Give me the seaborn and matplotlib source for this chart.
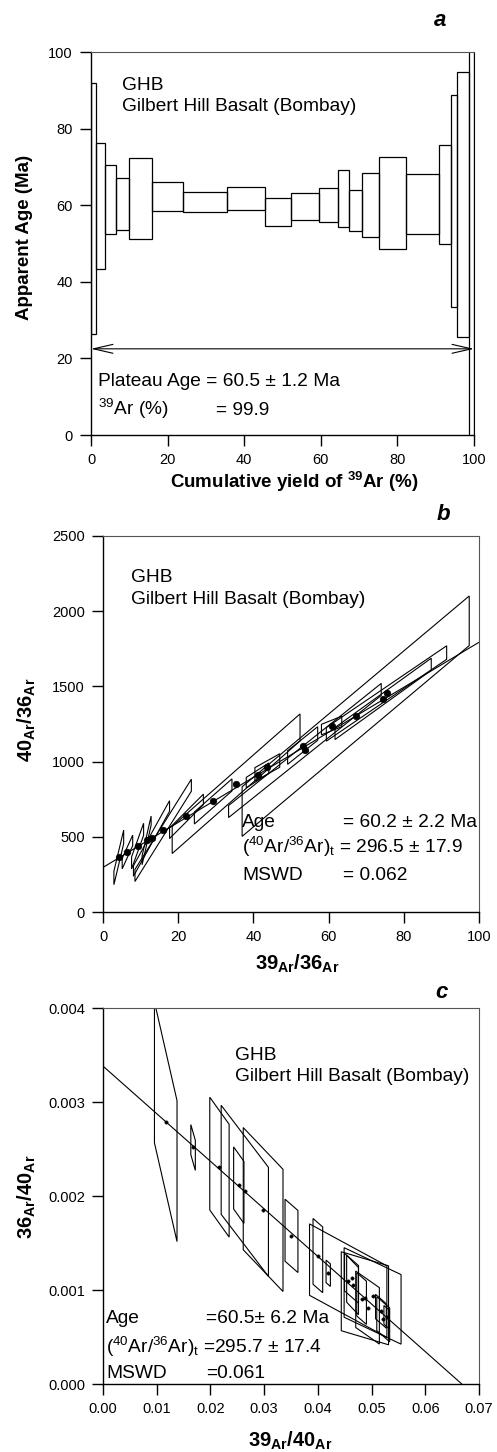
import matplotlib
matplotlib.use('Agg')
import matplotlib.pyplot as plt
from matplotlib.patches import Polygon
from matplotlib.ticker import StrMethodFormatter
import seaborn as sns
import numpy as np

# ---- panel a: step heating age spectrum ----
a_cum = [0, 1.2, 3.7, 6.4, 10.0, 16.0, 24.0, 35.4, 45.4, 52.2, 59.5,
         64.5, 67.3, 70.7, 75.2, 82.3, 90.8, 94.0, 95.6, 98.7, 100]
a_age = [59.1, 59.8, 61.45, 60.25, 61.85, 62.3, 60.75, 61.75, 58.15, 59.75,
         60.05, 61.8, 58.55, 60.05, 60.6, 60.25, 62.8, 61.2, 60.25, 60.0]
a_err = [32.8, 16.4, 9.05, 6.75, 10.55, 3.7, 2.65, 3.05, 3.65, 3.55,
         4.45, 7.5, 5.35, 8.35, 12.0, 7.85, 12.8, 27.7, 34.55, 95.0]
plateau_age = 22.5

# ---- panel b: 40Ar/36Ar vs 39Ar/36Ar isochron ----
b_x = [4.2, 6.5, 9.2, 11.6, 12.9, 16.0, 22.2, 29.3, 35.4, 41.1, 43.7,
       53.1, 53.7, 60.8, 67.2, 74.5, 75.4]
b_y = [363, 399, 438, 476, 489, 543, 636, 735, 853, 908, 961,
       1107, 1074, 1240, 1302, 1417, 1453]
b_sx = [1.3, 1.4, 1.6, 1.2, 4.8, 7.5, 4.5, 5.0, 17.0, 3.0, 3.3,
        4.0, 20.3, 2.7, 30.2, 12.8, 16.0]
b_sy = [45, 35, 40, 30, 35, 40, 35, 40, 90, 35, 45,
        45, 40, 35, 165, 40, 45]
b_k = [105, 55, 70, 110, 45, 40, 25, 22, 22, 16, 14,
       20, 20, 10, 21, 18, 17]
b_intercept = 296.5
b_slope = 14.97

# ---- panel c: inverse isochron ----
c_x = [0.01168, 0.01677, 0.02168, 0.02528, 0.0264, 0.02981, 0.03509, 0.0400,
       0.04193, 0.04565, 0.04627, 0.04646, 0.04814, 0.04876, 0.05019,
       0.04925, 0.05174, 0.05217, 0.0528]
c_y = [0.00279, 0.002516, 0.002307, 0.002115, 0.002055, 0.001856, 0.001576,
       0.001366, 0.001178, 0.0011, 0.001125, 0.001054, 0.000909, 0.000912,
       0.000937, 0.000813, 0.000774, 0.000689, 0.00071]
c_sx = [0.0021, 0.00042, 0.0018, 0.00096, 0.0044, 0.0037, 0.0012, 0.0009,
        0.0004, 0.0072, 0.0013, 0.0011, 0.0009, 0.0044, 0.0053,
        0.0022, 0.001, 0.0012, 0.0005]
c_sy = [0.00075, 0.00016, 0.0006, 0.00033, 0.00058, 0.00065, 0.00033, 0.00035,
        0.00012, 0.00038, 0.0002, 0.00025, 0.00023, 0.00042, 0.00037,
        0.0003, 0.00013, 0.00018, 0.0001]
c_k = [-0.25, -0.2, -0.08, -0.08, -0.075, -0.06, -0.05, -0.05,
       -0.05, -0.031, -0.05, -0.06, -0.05, -0.017, -0.027,
       -0.04, -0.05, -0.05, -0.05]
c_y_intercept = 0.003382
c_x_intercept = 0.0668

sns.set_style('ticks')
plt.rcParams['font.family'] = ['Liberation Sans', 'DejaVu Sans']
plt.rcParams['mathtext.fontset'] = 'custom'
plt.rcParams['mathtext.rm'] = 'Liberation Sans'
plt.rcParams['mathtext.bf'] = 'Liberation Sans:bold'
plt.rcParams['mathtext.it'] = 'Liberation Sans:italic'
plt.rcParams['text.color'] = 'black'
plt.rcParams['axes.labelcolor'] = 'black'
plt.rcParams['xtick.color'] = 'black'
plt.rcParams['ytick.color'] = 'black'

TXT = 13.8
LAB = 13.5
W, H = 497, 1452

fig = plt.figure(figsize=(W / 100, H / 100), dpi=100)


def px_axes(left, top, right, bottom):
    return fig.add_axes([left / W, 1 - bottom / H, (right - left) / W, (bottom - top) / H])


def style(ax):
    for s in ['left', 'bottom']:
        ax.spines[s].set_linewidth(1.0)
        ax.spines[s].set_color('black')
    for s in ['top', 'right']:
        ax.spines[s].set_visible(True)
        ax.spines[s].set_linewidth(0.8)
        ax.spines[s].set_color('#555555')
    ax.tick_params(direction='out', length=8, width=1, labelsize=10.5, pad=5,
                   colors='black')
    ax.set_facecolor('white')


def draw_boxes(ax, xs, ys, sxs, sys_, ks):
    # correlated-error parallelograms with vertical sides
    for x, y, sx, sy, k in zip(xs, ys, sxs, sys_, ks):
        verts = [(x - sx, y - k * sx - sy), (x - sx, y - k * sx + sy),
                 (x + sx, y + k * sx + sy), (x + sx, y + k * sx - sy)]
        ax.add_patch(Polygon(verts, closed=True, fill=False, edgecolor='black', lw=0.8))


# panel a
axa = px_axes(91, 52, 474, 435)
edges = np.array(a_cum)
lo = np.array(a_age) - np.array(a_err)
axa.bar(edges[:-1], 2 * np.array(a_err), width=np.diff(edges), bottom=lo, align='edge',
        fill=False, edgecolor='black', linewidth=0.9)
axa.annotate('', xy=(0, plateau_age), xytext=(100, plateau_age),
             arrowprops=dict(arrowstyle='<->,head_length=1.4,head_width=0.32',
                             lw=0.8, color='black', shrinkA=0, shrinkB=0))
axa.set_xlim(0, 100)
axa.set_ylim(0, 100)
axa.set_xticks(range(0, 101, 20))
axa.set_yticks(range(0, 101, 20))
style(axa)
axa.spines['right'].set_color('black')
axa.set_xlabel(r'Cumulative yield of $^{\mathbf{39}}$Ar (%)', fontsize=LAB, fontweight='bold')
axa.set_ylabel('Apparent Age (Ma)', fontsize=LAB, fontweight='bold')
axa.xaxis.set_label_coords(0.53, -0.09)
axa.yaxis.set_label_coords(-0.151, 0.517)
axa.text(8.1, 90.1, 'GHB', fontsize=TXT)
axa.text(8.1, 84.6, 'Gilbert Hill Basalt (Bombay)', fontsize=TXT)
axa.text(1.8, 12.8, 'Plateau Age = 60.5 ± 1.2 Ma', fontsize=TXT)
axa.text(1.8, 5.2, r'$^{39}$Ar (%)', fontsize=TXT)
axa.text(32.6, 5.2, '= 99.9', fontsize=TXT)

# panel b
axb = px_axes(103, 536, 479, 912)
draw_boxes(axb, b_x, b_y, b_sx, b_sy, b_k)
axb.axline((0, b_intercept), slope=b_slope, color='black', lw=0.8)
sns.scatterplot(x=b_x, y=b_y, ax=axb, color='black', s=22, edgecolor='black',
                linewidth=0.5, zorder=3)
axb.set_xlim(0, 100)
axb.set_ylim(0, 2500)
axb.set_xticks(range(0, 101, 20))
axb.set_yticks(range(0, 2501, 500))
style(axb)
axb.set_xlabel(r'$\mathbf{39_{Ar}/36_{Ar}}$', fontsize=LAB + 1)
axb.set_ylabel(r'$\mathbf{40_{Ar}/36_{Ar}}$', fontsize=LAB + 1)
axb.xaxis.set_label_coords(0.516, -0.108)
axb.yaxis.set_label_coords(-0.173, 0.511)
axb.text(7.4, 2196, 'GHB', fontsize=TXT)
axb.text(7.4, 2048, 'Gilbert Hill Basalt (Bombay)', fontsize=TXT)
axb.text(37.0, 567, 'Age', fontsize=TXT)
axb.text(63.8, 567, '= 60.2 ± 2.2 Ma', fontsize=TXT)
axb.text(37.0, 390, r'($^{40}$Ar/$^{36}$Ar)$_{\mathrm{t}}$ = 296.5 ± 17.9', fontsize=TXT)
axb.text(37.0, 213, 'MSWD', fontsize=TXT)
axb.text(63.8, 213, '= 0.062', fontsize=TXT)

# panel c
axc = px_axes(103, 1008, 479, 1384)
draw_boxes(axc, c_x, c_y, c_sx, c_sy, c_k)
axc.axline((0, c_y_intercept), (c_x_intercept, 0), color='black', lw=0.8)
sns.scatterplot(x=c_x, y=c_y, ax=axc, color='black', s=6, edgecolor='black',
                linewidth=0.3, zorder=3)
axc.set_xlim(0, 0.07)
axc.set_ylim(0, 0.004)
axc.set_xticks(np.arange(0, 0.0701, 0.01))
axc.set_yticks(np.arange(0, 0.00401, 0.001))
axc.xaxis.set_major_formatter(StrMethodFormatter('{x:.2f}'))
axc.yaxis.set_major_formatter(StrMethodFormatter('{x:.3f}'))
style(axc)
axc.set_xlabel(r'$\mathbf{39_{Ar}/40_{Ar}}$', fontsize=LAB + 1)
axc.set_ylabel(r'$\mathbf{36_{Ar}/40_{Ar}}$', fontsize=LAB + 1)
axc.xaxis.set_label_coords(0.497, -0.122)
axc.yaxis.set_label_coords(-0.173, 0.497)
axc.text(0.02457, 0.003447, 'GHB', fontsize=TXT)
axc.text(0.02457, 0.003227, 'Gilbert Hill Basalt (Bombay)', fontsize=TXT)
axc.text(0.00056, 0.000652, 'Age', fontsize=TXT)
axc.text(0.01918, 0.000652, '=60.5± 6.2 Ma', fontsize=TXT)
axc.text(0.00056, 0.000326, r'($^{40}$Ar/$^{36}$Ar)$_{\mathrm{t}}$ =295.7 ± 17.4', fontsize=TXT)
axc.text(0.00056, 0.000067, 'MSWD', fontsize=TXT)
axc.text(0.01918, 0.000067, '=0.061', fontsize=TXT)

# panel letters
for lbl, (px, py) in zip(['a', 'b', 'c'], [(440, 20), (443, 515), (442, 992)]):
    fig.text(px / W, 1 - py / H, lbl, fontsize=16, fontweight='bold', fontstyle='italic',
             ha='center', va='center')

fig.savefig('out.png', dpi=100)
